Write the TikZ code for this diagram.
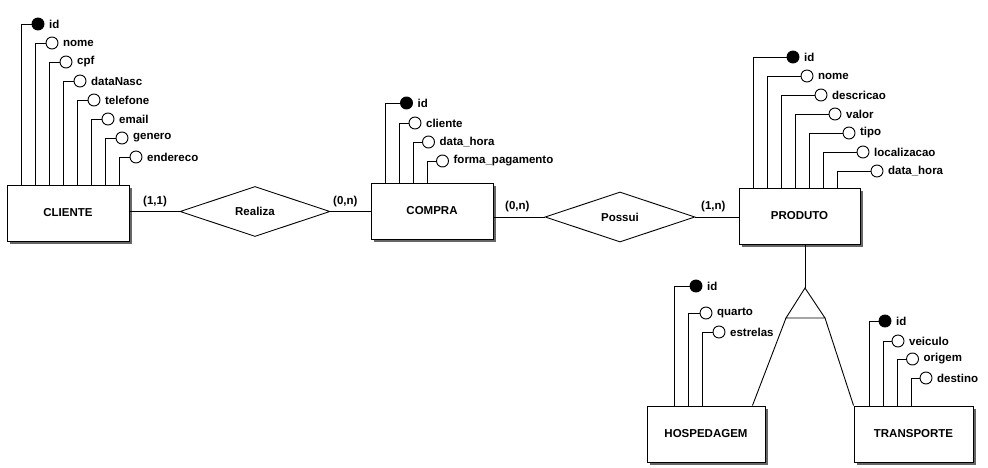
\documentclass[tikz,border=0pt]{standalone}
\usepackage{fontspec}
\setmainfont{Liberation Sans}
\usetikzlibrary{shapes.geometric,shadows,calc}
\tikzset{
 ent/.style={draw, fill=white, line width=0.9pt, inner sep=0pt, font=\fontsize{11.5}{13}\bfseries,
   drop shadow={shadow xshift=2.5pt, shadow yshift=-2.5pt, fill=black!60, opacity=1}},
 rel/.style={draw, diamond, fill=white, line width=0.9pt, inner sep=0pt, minimum width=150pt, minimum height=50pt},
 attr/.style={circle, draw, fill=white, line width=0.9pt, inner sep=0pt, minimum size=12pt},
 key/.style={attr, fill=black},
 atext/.style={anchor=west, inner sep=0pt},
 card/.style={anchor=west, inner sep=0pt},
 conn/.style={line width=0.9pt},
}
\newcommand{\attrib}[7]{%
 \node[#7] (#1) at (#5,#4) {};
 \node[atext] (#1t) at ([xshift=4.5pt]#1.east) {#6};
 \coordinate (#1l) at (#3,#4);
 \draw[conn] (#2.north -| #1l) |- (#1.west);
}
\begin{document}
\begin{tikzpicture}[x=1pt,y=-1pt,font=\fontsize{11.5}{13}\selectfont\bfseries]
\useasboundingbox[fill=white] (0,0) rectangle (988,468);
% entities
\node[ent, minimum width=122pt, minimum height=56pt] (cli) at (68,213) {CLIENTE};
\node[ent, minimum width=122pt, minimum height=56pt] (com) at (432,211) {COMPRA};
\node[ent, minimum width=121pt, minimum height=56pt] (pro) at (799.5,216) {PRODUTO};
\node[ent, minimum width=118pt, minimum height=56pt] (hos) at (706,434) {HOSPEDAGEM};
\node[ent, minimum width=119pt, minimum height=56pt] (tra) at (913.5,434) {TRANSPORTE};
% relationships
\node[rel] (rea) at (255,211.5) {Realiza};
\node[rel] (pos) at (620,217) {Possui};
\draw[conn] (cli.east |- rea.west) -- (rea.west);
\draw[conn] (rea.east) -- (rea.east -| com.west);
\draw[conn] (com.east |- pos.west) -- (pos.west);
\draw[conn] (pos.east) -- (pos.east -| pro.west);
\node[card] (k1) at (143,202) {(1,1)};
\node[card] (k2) at (333,202) {(0,n)};
\node[card] (k3) at (505,207) {(0,n)};
\node[card] (k4) at (701,207) {(1,n)};
% CLIENTE attributes
\attrib{ca}{cli}{21}{24}{38}{id}{key}
\attrib{cb}{cli}{35}{43}{52}{nome}{attr}
\attrib{cc}{cli}{49}{62}{66}{cpf}{attr}
\attrib{cd}{cli}{63}{81}{80}{dataNasc}{attr}
\attrib{ce}{cli}{77}{100}{94}{telefone}{attr}
\attrib{cf}{cli}{91}{119}{108}{email}{attr}
\attrib{cg}{cli}{105}{138}{122}{genero}{attr}
\attrib{ch}{cli}{119}{157}{136}{endereco}{attr}
% COMPRA attributes
\attrib{ma}{com}{385}{103}{406.5}{id}{key}
\attrib{mb}{com}{399}{123}{415}{cliente}{attr}
\attrib{mc}{com}{413}{142}{428.5}{data\_hora}{attr}
\attrib{md}{com}{427}{161}{442.5}{forma\_pagamento}{attr}
% PRODUTO attributes
\attrib{pa}{pro}{753}{57}{793}{id}{key}
\attrib{pb}{pro}{767}{76}{807}{nome}{attr}
\attrib{pc}{pro}{781}{95}{821}{descricao}{attr}
\attrib{pd}{pro}{795}{114}{835}{valor}{attr}
\attrib{pe}{pro}{809}{133}{849}{tipo}{attr}
\attrib{pf}{pro}{823}{152}{863}{localizacao}{attr}
\attrib{pg}{pro}{837}{171}{877}{data\_hora}{attr}
% HOSPEDAGEM attributes
\attrib{ha}{hos}{674}{286}{696}{id}{key}
\attrib{hb}{hos}{688}{313}{706}{quarto}{attr}
\attrib{hc}{hos}{702}{332}{719}{estrelas}{attr}
% TRANSPORTE attributes
\attrib{ta}{tra}{869}{321}{885}{id}{key}
\attrib{tb}{tra}{883}{341}{898}{veiculo}{attr}
\attrib{tc}{tra}{897}{359}{912.5}{origem}{attr}
\attrib{td}{tra}{911}{378}{926}{destino}{attr}
% specialization
\coordinate (apex) at (805,288);
\coordinate (bl) at (786,318);
\coordinate (br) at (825,318);
\draw[conn] (pro.south -| apex) -- (apex);
\draw[conn, line join=miter] (apex) -- (bl) -- (br) -- cycle;
\draw[conn] (bl) -- ($(hos.north east)+(-13,0)$);
\draw[conn] (br) -- (tra.north west);
\end{tikzpicture}
\end{document}
